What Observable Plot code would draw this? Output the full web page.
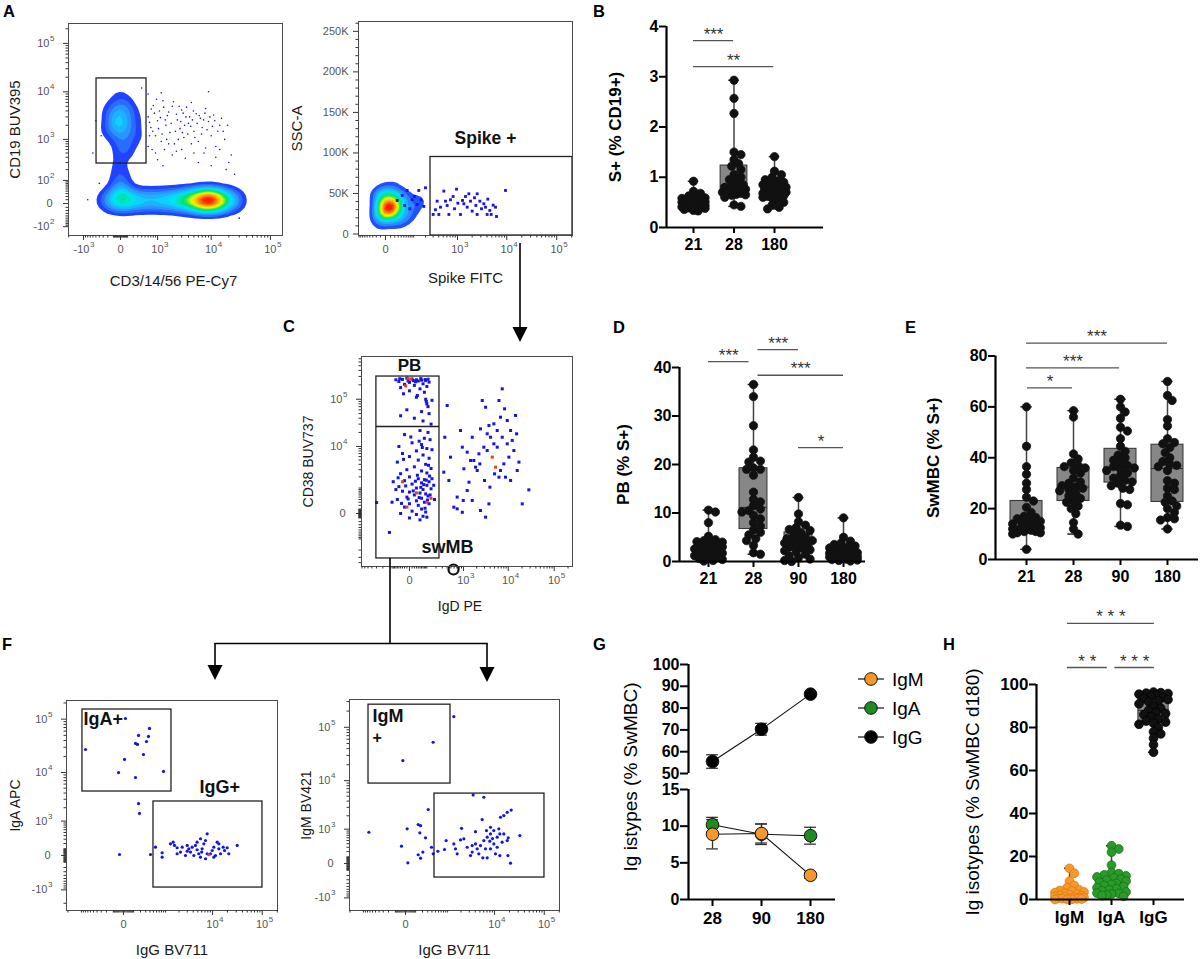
<!DOCTYPE html>
<html><head><meta charset="utf-8">
<script src="https://cdn.jsdelivr.net/npm/d3@7"></script>
<script src="https://cdn.jsdelivr.net/npm/@observablehq/plot@0.6"></script>
<style>
body{margin:0;background:#fff;}
#fig{position:relative;width:1200px;height:959px;overflow:hidden;background:#fff;font-family:"Liberation Sans",Arial,sans-serif;}
</style></head><body><div id="fig"></div><script>
// ===================== DATA =====================
// ---- Panel A (left): CD3/14/56 vs CD19, population anchors [x, y, weight] and sparse events [x, y]
const aLeftBand = [[-270,8,1],[-114,8,2],[0,8,3.2],[114,8,2.6],[270,8,2],[481,8,1.8],[767,8,1.8],[1158,8,1.9],[1689,8,2.1],[2410,8,2.5],[3390,8,3.2],[4720,8,4.2],[6520,8,6],[9000,8,8],[12340,8,6],[16900,8,3.5],[23100,8,1.8],[29200,8,0.8]];
const aLeftNeck = [[0,40,1.2],[0,80,1.3],[0,178,1.0],[-40,350,0.6]];
const aLeftCD19 = [[-30,1980,2.0],[-114,4090,1.3],[67,5300,1.1],[0,945,1.5],[149,1550,1.3],[-190,1550,0.9],[-30,8000,0.7],[230,3000,0.8],[67,600,1.0],[367,945,0.5],[-60,2800,1.2],[40,3300,1.2]];
const aLeftSparse = [[600,3000],[700,1800],[800,5200],[900,1200],[1000,2500],[1100,4000],[1200,900],[1300,6500],[1500,2000],[1600,3200],[1800,1400],[2000,5000],[2200,800],[2500,2600],[2800,1700],[3000,4200],[3300,1100],[3600,3000],[4000,2200],[4500,6000],[5000,1500],[5500,3500],[6000,900],[6500,2800],[7000,1800],[8000,4500],[9000,2400],[10000,1200],[11000,3300],[12000,700],[14000,2000],[16000,1500],[600,700],[900,500],[1400,600],[2000,450],[3000,600],[5000,500],[8000,650],[12000,400],[20000,300],[25000,150],[30000,-50],[-600,500],[-400,80],[-800,10],[600,9000],[1200,9500],[9000,10000],[650,2300],[720,4400],[780,1500],[850,3600],[950,7000],[1050,1700],[1150,2900],[1250,1300],[1350,4800],[1450,2600],[1550,1000],[1700,3800],[1900,2200],[2100,6200],[2300,1500],[2400,3400],[2600,1000],[2700,5000],[2900,2400],[3100,1400],[3200,3600],[3400,2000],[3700,4800],[3900,1300],[4200,3000],[4400,1900],[4700,2600],[4900,4000],[5200,1100],[5700,2200],[6200,3200],[6800,1300],[7400,2600],[7800,3600],[8500,1600],[9500,3000],[10500,1900],[11500,2500],[13000,1500],[15000,2800],[17000,1000],[19000,2000],[650,1200],[750,600],[1000,350],[1300,250],[1700,800],[2400,550],[3500,380],[4500,800],[6000,300],[7500,500],[10000,250],[14000,600],[18000,200],[22000,450],[-350,1200],[-200,5500],[400,12000],[-500,2500]];
const cd19Gate = {x1: -480, x2: 545, y1: 284, y2: 18900};
const aLeftXTicks = [{v:-1000,b:"-10",e:"3"},{v:0,b:"0"},{v:1000,b:"10",e:"3"},{v:10000,b:"10",e:"4"},{v:100000,b:"10",e:"5"}];
const aLeftYTicks = [{v:-100,b:"-10",e:"2"},{v:0,b:"0"},{v:100,b:"10",e:"2"},{v:1000,b:"10",e:"3"},{v:10000,b:"10",e:"4"},{v:100000,b:"10",e:"5"}];

// ---- Panel A (right): Spike FITC vs SSC-A
const spikeBlob = [[5.6,31500,6],[-5.6,26500,3],[22,36400,3],[0,43800,2.5],[-10,47500,1.5],[37.7,46300,1.5],[57,22800,1.5],[22,16700,1.2],[-10,14200,1],[93,35200,1],[151,41400,0.6],[11,56200,0.8]];
const spikeEvents = [[26.8,41400],[43.5,47500],[52.7,35200],[64.6,53700],[78,31100],[91,42200],[105.6,46300],[124,36400],[137,53700],[157,42200],[182,34000],[200,57000],[301,24100],[339,29900],[369,40500],[437,33100],[516,52900],[560,40500],[660,24100],[714,42200],[811,46300],[867,31100],[954,55300],[1018,38000],[1154,24100],[1270,41400],[1463,46300],[1583,33100],[1712,49600],[1851,40500],[2002,28200],[2235,44700],[2380,35200],[2530,49600],[2870,40500],[3099,31100],[3450,37300],[3732,33100],[4150,43000],[4560,29000],[4860,24100],[5320,35600],[5940,33100],[6220,21600],[9420,53700],[402,24100],[607,35200],[1353,37300],[2530,24100],[4030,24100]];
const spikeGate = {x1: 262, x2: 207000, y1: -1850, y2: 95000};
const spikeLabel = [{x: 3732, y: 110500, t: "Spike +"}];
const spikeXTicks = [{v:0,b:"0"},{v:1000,b:"10",e:"3"},{v:10000,b:"10",e:"4"},{v:100000,b:"10",e:"5"}];
const spikeYTicks = [{v:0,b:"0"},{v:50000,b:"50K"},{v:100000,b:"100K"},{v:150000,b:"150K"},{v:200000,b:"200K"},{v:250000,b:"250K"}];

// ---- Panel B: S+ (% CD19+) by day
const bDays = ["21","28","180"];
const b21 = [0.92,0.72,0.68,0.63,0.60,0.59,0.58,0.57,0.56,0.55,0.53,0.51,0.50,0.49,0.48,0.47,0.46,0.45,0.44,0.43,0.42,0.41,0.40,0.40,0.39,0.38,0.36,0.34,0.33];
const b28 = [2.93,2.57,2.27,1.50,1.45,1.35,1.27,1.22,1.15,1.05,1.00,0.95,0.90,0.85,0.82,0.80,0.78,0.76,0.75,0.72,0.70,0.68,0.66,0.65,0.64,0.60,0.45,0.42];
const b180 = [1.41,1.12,1.05,1.00,0.95,0.92,0.90,0.88,0.85,0.82,0.80,0.78,0.76,0.74,0.72,0.70,0.69,0.68,0.66,0.64,0.63,0.62,0.60,0.58,0.55,0.50,0.45,0.40,0.37];
const bSig = [{a:0,b:0.99,y:3.72,s:"***"},{a:0,b:1.98,y:3.2,s:"**"}];

// ---- Panel C: IgD PE vs CD38 BUV737
const cPB = [[-30,260000],[-10,275000],[10,265000],[30,255000],[60,250000],[-50,235000],[0,225000],[40,240000],[90,245000],[120,228000],[-20,205000],[20,195000],[70,210000],[100,185000],[50,165000],[-40,175000],[0,150000],[80,140000],[-70,255000],[110,262000],[15,245000],[-5,240000],[35,120000],[-25,130000],[55,270000],[-45,268000],[85,258000],[25,232000]];
const cColumn = [[30,110000],[90,100000],[100,80000],[110,70000],[-10,60000],[60,55000],[120,50000],[20,40000],[70,35000],[140,30000],[-40,45000],[95,90000],[150,95000],[50,22000],[110,20000],[-20,18000],[80,15000],[130,14000],[10,12000],[60,11000],[-50,10000],[100,9000],[30,8000],[150,8500],[-30,7000],[70,6500],[0,6000],[120,5500],[40,5000],[-60,4500],[90,4000],[20,3500],[140,3200],[-10,3000],[60,2800],[100,2500],[-40,2400],[0,2000],[40,1800],[80,1700],[-20,1600],[120,1500],[60,1400],[10,1300],[100,1200],[-50,1100],[30,1000],[70,900],[140,950],[-30,800],[0,750],[50,700],[90,650],[20,600],[-10,500],[110,550],[60,450],[-60,400],[30,350],[80,300],[0,250],[40,200],[120,250],[-20,150],[60,100],[10,50],[90,30],[-40,0],[30,-20],[70,-60],[0,-100],[50,-150],[100,-80],[-70,900],[130,600],[150,1800],[-300,290],[-124,-620],[-90,1500],[170,1200],[-100,300],[180,400],[25,1550],[75,1250],[-15,1150],[45,480],[105,380],[15,820],[-35,260],[5,16000],[65,9500],[-25,5200],[115,3800],[35,2200],[-55,1900],[95,1650],[55,1050],[-5,420],[85,120],[125,2100],[45,13000]];
const cIgDpos = [[403,74000],[350,15800],[489,5820],[329,2620],[445,1620],[590,148],[711,104],[940,25],[711,500],[990,363],[853,22000],[940,9650],[1220,7500],[1590,15800],[1455,4900],[1730,4900],[1890,3440],[2440,23800],[2670,94000],[3170,68000],[3760,28000],[4080,15800],[4830,11400],[5720,22000],[6770,42000],[6250,94000],[7380,165000],[8300,63000],[9500,35800],[11250,22000],[12200,13500],[14400,45700],[15200,18700],[13250,8150],[10300,5820],[8000,4100],[6770,2870],[3440,8150],[2900,9650],[2360,4100],[2060,2870],[3000,1620],[3950,1060],[5000,2380],[6250,1970],[8700,1970],[11250,1620],[15700,2870],[17100,4500],[20200,245],[28100,880],[3760,245],[2440,65],[3170,-80],[1590,363],[1220,840],[1022,3150],[1340,1460],[2250,6900],[5720,9650],[7380,15800],[9500,11400],[4830,30400],[3440,18700]];
const cRed = [[-5,268000],[5,262000],[-15,190000],[4450,5820],[5270,3440],[-30,1500],[30,700],[100,300],[140,450],[-10,150]];
const cGate = {x1: -304, x2: 251, y1: -3200, y2: 298000, split: 26700};
const cLabels = [{x: 0, y: 398000, t: "PB", a: "middle", s: 17}, {x: 410, y: -2430, t: "swMB", a: "start", s: 18}];
const cMarker = [[580, -5730]];
const cXTicks = [{v:0,b:"0"},{v:1000,b:"10",e:"3"},{v:10000,b:"10",e:"4"},{v:100000,b:"10",e:"5"}];
const cYTicks = [{v:0,b:"0"},{v:10000,b:"10",e:"4"},{v:100000,b:"10",e:"5"}];

// ---- Panel D: PB (% S+)
const dDays = ["21","28","90","180"];
const d21 = [10.6,10.2,8.0,5.2,4.5,4.3,4.1,4.0,3.8,3.6,3.4,3.2,3.0,2.8,2.6,2.5,2.3,2.1,1.9,1.7,1.5,1.4,1.2,1.0,0.8,0.6,0.4,0.2,0.1];
const d28 = [36.5,34,28,23,21.5,20.7,20.5,19.3,19,19,17.8,14.3,12.8,12.3,11.5,10.8,10.5,10.2,9.5,8.8,8,7.3,6.5,6,5.5,4.7,4.3,3.3,1.8,1.5];
const d90 = [13.2,9.8,8.2,7.5,7.0,6.6,6.4,6.0,5.5,5.0,4.7,4.5,4.3,4.1,4.0,3.8,3.6,3.3,3.0,2.7,2.4,2.2,2.0,1.5,1.2,0.8,0.5,0.2,0];
const d180 = [9.0,5.0,4.2,3.8,3.5,3.2,3.0,2.8,2.6,2.4,2.2,2.0,1.9,1.8,1.7,1.6,1.5,1.3,1.2,1.1,1.0,0.9,0.8,0.7,0.6,0.5,0.4,0.3,0.2,0.1];
const dSig = [{a:0,b:0.9,y:41.2,s:"***"},{a:1.1,b:2,y:43.7,s:"***"},{a:1.1,b:3,y:38.4,s:"***"},{a:2,b:3,y:23.5,s:"*"}];

// ---- Panel E: SwMBC (% S+)
const eDays = ["21","28","90","180"];
const e21 = [60,44.5,36.5,33.5,30,27.5,24.5,23,20.5,18.5,17,16.5,16,15.5,15,14.5,14,13.5,13,12.5,12,11.5,11,11,10.5,10.5,10,4,12];
const e28 = [58.5,56,41.5,39.5,38,37,36.5,36,35,34,32,30.5,30,29,28.5,28,27.5,27,26,25,24,23,22.5,21,20,18,14.5,12,10];
const e90 = [63,60,58,55.5,52,50.5,47.5,44.5,42.5,41,40,39,38,37,36.5,36,35.5,35,34,33,32,31,30.5,30,29,28,27.5,22,21.5,13.5,13];
const e180 = [70,64.5,62.5,55,52.5,47.5,46,45.5,44,42,40,38.5,37.5,37,36.5,35,31,30,28,27.5,25,23,22.5,21,20,18.5,16.5,16,15.5,12];
const eSig = [{a:0.02,b:0.98,y:67.5,s:"*"},{a:0,b:1.98,y:75.3,s:"***"},{a:0,b:3,y:85.1,s:"***"}];

// ---- Panel F: IgG BV711 vs IgA APC / IgM BV421
const fIgAgate = [[-798,27200],[16,103000],[388,67200],[168,49800],[363,47700],[316,38400],[124,35300],[152,33800],[254,21900],[8,17700],[-43,10000],[124,8040],[892,10500]];
const fLeftOther = [[168,2450],[183,1500],[-34,13],[415,13]];
const fLeftIgG = [[566,128],[828,37],[828,-22],[1295,193],[1490,230],[1591,160],[1821,117],[2150,47],[2990,160],[3240,99],[3510,47],[3800,128],[4450,160],[4820,83],[5220,23],[5660,-22],[6120,99],[6620,193],[7170,269],[7760,457],[9070,23],[9820,71],[10600,128],[11460,0],[12400,230],[13400,99],[14500,23],[16400,128],[17470,71],[19750,117],[21300,23],[31400,160],[5660,312],[7170,-45],[2750,0],[1821,23],[2340,128],[4120,0],[7760,23],[10600,-22],[13400,193],[4820,230],[2990,61],[5990,47]];
const fLeftRed = [[8400,10]];
const fIgAGateBox = {x1: -943, x2: 1364, y1: 4290, y2: 151000};
const fLeftIgGGate = {x1: 501, x2: 101000, y1: -876, y2: 2700};
const fLeftLabels = [{x: -892, y: 76300, t: "IgA+"}, {x: 5390, y: 3920, t: "IgG+"}];
const fIgMgate = [[1388,158000],[432,52700],[-22,23900]];
const fRightOther = [[-741,840],[-34,330],[13,1020],[19,9],[133,1280],[168,1210],[157,810],[254,600],[133,136],[168,77],[205,190],[309,2700],[388,301],[432,153],[577,207],[845,246],[924,500]];
const fRightIgG = [[3620,5300],[6030,4770],[5570,1660],[2050,1050],[4050,870],[8250,1110],[9650,925],[12180,1020],[13170,1860],[15390,2020],[17990,2370],[21700,2640],[32400,690],[18900,600],[12770,762],[8250,762],[7060,623],[6030,500],[5140,346],[4390,261],[3450,190],[3184,122],[2300,560],[1947,522],[1388,393],[1512,261],[1647,153],[2710,301],[8250,261],[9650,393],[11280,301],[10430,153],[5740,83],[7060,83],[12770,122],[18600,122],[20990,4],[8000,480],[9070,569],[6830,925],[11280,623],[15390,762],[17990,500],[14230,445],[4050,393],[3450,346],[4750,153],[6520,261]];
const fIgMGateBox = {x1: -756, x2: 1166, y1: 8800, y2: 263000};
const fRightIgGGate = {x1: 470, x2: 101000, y1: -245, y2: 5630};
const fRightLabels = [{x: -600, y: 127000, t: "IgM", s: 18}, {x: -600, y: 52000, t: "+", s: 16}];
const fXTicks = [{v:0,b:"0"},{v:10000,b:"10",e:"4"},{v:100000,b:"10",e:"5"}];
const fYTicks = [{v:-1000,b:"-10",e:"3"},{v:0,b:"0"},{v:1000,b:"10",e:"3"},{v:10000,b:"10",e:"4"},{v:100000,b:"10",e:"5"}];

// ---- Panel G: Ig isotypes (% SwMBC), mean ± SEM
const gDays = ["28","90","180"];
const igmMean = [8.9, 9.0, 3.3], igmSem = [2.0, 1.3, 0.4];
const igaMean = [10.2, 8.9, 8.7], igaSem = [1.0, 1.4, 1.15];
const iggMean = [55.5, 70.3, 86.4], iggSem = [3.1, 2.7, 0.8];
const isoNames = ["IgM","IgA","IgG"];
const isoColors = ["#f7982a","#1f8c1f","#000000"];

// ---- Panel H: Ig isotypes (% SwMBC d180)
const hIso = ["IgM","IgA","IgG"];
const hIgM = [14.5,12.2,8.5,6.5,5.5,4.5,4.2,4.0,3.5,3.2,3.0,2.5,2.2,2.0,1.8,1.5,1.3,1.0,0.9,0.8,0.6,0.5,0.4,0.3,0.2,0.1,0,0];
const hIgA = [25,23.5,22,16,12.5,12,11.5,11,10.5,10,9.5,9,8.5,8,7.5,7,6.5,6,5.5,5,4.5,4,3.5,3,2.8,2.5,2,1.8,1.5];
const hIgG = [96.5,96.2,96,95.8,95.5,95,94.5,94,93.5,93,92.5,92,91,90,89,88,87,86.5,86,85,84,83,82.5,82,81.5,80,78,77,75,72,68.5];
const hSig = [{a:-0.05,b:2.02,y:128.4,s:"* * *"},{a:-0.05,b:0.9,y:107.9,s:"* *"},{a:1.08,b:2.02,y:107.9,s:"* * *"}];

// ===================== RENDERING =====================
const fig = document.getElementById("fig");
const FONT = "Liberation Sans, Arial, Helvetica, sans-serif";
const flowInterp = d3.piecewise(d3.interpolateRgb, ["#1a1aff","#2f8fff","#00e5ff","#00e060","#f0ff00","#ff9900","#ff1a00"]);
const baseStyle = {background: "transparent", overflow: "visible", fontFamily: FONT};

function place(svg, left, top) {
  svg.style.position = "absolute";
  svg.style.left = left + "px";
  svg.style.top = top + "px";
  fig.appendChild(svg);
}
function logMinors([lo, hi], majors) {
  const out = [];
  for (let e = 1; e <= 5; e++) for (let k = 1; k <= 9; k++) {
    const v = k * 10 ** e;
    for (const s of [v, -v]) if (s > lo && s < hi && !majors.includes(s)) out.push(s);
  }
  return out;
}
const P = d => ({x: d[0], y: d[1]});
const A = d => ({x: d[0], y: d[1], w: d[2]});

function flowPlot(c) {
  const xMajor = c.xTicks.map(d => d.v), yMajor = c.yTicks.map(d => d.v);
  const xMinor = c.xMinor || logMinors(c.x.domain, xMajor);
  const yMinor = c.yMinor || logMinors(c.y.domain, yMajor);
  const plainX = c.xTicks.filter(d => !d.e), expX = c.xTicks.filter(d => d.e);
  const plainY = c.yTicks.filter(d => !d.e), expY = c.yTicks.filter(d => d.e);
  const lab = {fill: "#555", fontSize: 11};
  const svg = Plot.plot({
    width: c.width, height: c.height,
    marginLeft: c.mL, marginRight: c.mR, marginTop: c.mT, marginBottom: c.mB,
    style: baseStyle,
    x: {...c.x, label: null}, y: {...c.y, label: null},
    color: {type: "linear", interpolate: flowInterp},
    marks: [
      ...c.marks,
      Plot.frame({stroke: "#4a4a4a"}),
      Plot.axisX({ticks: xMajor, tickSize: 5, tickFormat: () => "", stroke: "#333", label: null}),
      Plot.axisX({ticks: xMinor, tickSize: 2.5, tickFormat: () => "", stroke: "#333", label: null}),
      Plot.axisY({ticks: yMajor, tickSize: 5, tickFormat: () => "", stroke: "#333", label: null}),
      Plot.axisY({ticks: yMinor, tickSize: 2.5, tickFormat: () => "", stroke: "#333", label: null}),
      Plot.text(plainX, {x: "v", text: "b", frameAnchor: "bottom", dy: 17, textAnchor: "middle", lineAnchor: "bottom", ...lab}),
      Plot.text(expX, {x: "v", text: "b", frameAnchor: "bottom", dx: 6, dy: 17, textAnchor: "end", lineAnchor: "bottom", ...lab}),
      Plot.text(expX, {x: "v", text: "e", frameAnchor: "bottom", dx: 6.5, dy: 11, textAnchor: "start", lineAnchor: "bottom", fill: "#555", fontSize: 8}),
      Plot.text(plainY, {y: "v", text: "b", frameAnchor: "left", dx: c.yPlainDx, textAnchor: "end", lineAnchor: "middle", ...lab}),
      Plot.text(expY, {y: "v", text: "b", frameAnchor: "left", dx: -19, textAnchor: "end", lineAnchor: "middle", ...lab}),
      Plot.text(expY, {y: "v", text: "e", frameAnchor: "left", dx: -18.5, dy: -5, textAnchor: "start", lineAnchor: "middle", fill: "#555", fontSize: 8}),
      Plot.text([c.xLabel], {frameAnchor: "bottom", dx: c.xLabelDx || 0, dy: c.xLabelDy, textAnchor: "middle", lineAnchor: "bottom", fontSize: c.xLabelSize, fill: "#1a1a1a"}),
      Plot.text([c.yLabel], {frameAnchor: "left", dx: c.yLabelDx, rotate: -90, textAnchor: "middle", lineAnchor: "middle", fontSize: c.yLabelSize, fill: "#1a1a1a"})
    ]
  });
  place(svg, c.left, c.top);
}
const gateStyle = {x1: "x1", x2: "x2", y1: "y1", y2: "y2", fill: "none", stroke: "#222", strokeWidth: 1.3};
const evBlue = "#1414e6";

// ---- A left
flowPlot({
  left: 0, top: 0, width: 300, height: 295, mL: 68, mR: 18, mT: 23, mB: 60,
  x: {type: "symlog", constant: 318, domain: [-2022, 159000]},
  y: {type: "symlog", constant: 50, domain: [-178, 257000]},
  xTicks: aLeftXTicks, yTicks: aLeftYTicks, yPlainDx: -16,
  xLabel: "CD3/14/56 PE-Cy7", xLabelDy: 50, xLabelDx: -2, xLabelSize: 15,
  yLabel: "CD19 BUV395", yLabelDx: -53, yLabelSize: 15,
  marks: [
    Plot.dot(aLeftSparse.map(P), {x: "x", y: "y", r: 0.8, fill: evBlue, clip: true}),
    Plot.density([...aLeftBand, ...aLeftNeck, ...aLeftCD19].map(A), {x: "x", y: "y", weight: "w", bandwidth: 5.5, thresholds: 18, fill: "density", clip: true}),
    Plot.rect([cd19Gate], gateStyle)
  ]
});

// ---- A right
flowPlot({
  left: 300, top: 0, width: 290, height: 295, mL: 58, mR: 18, mT: 21, mB: 60,
  x: {type: "symlog", constant: 37.7, domain: [-93, 207000]},
  y: {type: "linear", domain: [-1850, 262144]},
  xTicks: spikeXTicks, yTicks: spikeYTicks, yPlainDx: -10,
  yMinor: d3.range(10000, 262144, 10000).filter(v => v % 50000 !== 0),
  xLabel: "Spike FITC", xLabelDy: 47, xLabelSize: 15,
  yLabel: "SSC-A", yLabelDx: -61, yLabelSize: 15,
  marks: [
    Plot.density(spikeBlob.map(A), {x: "x", y: "y", weight: "w", bandwidth: 5, thresholds: 14, fill: "density", clip: true}),
    Plot.dot(spikeEvents.map(P), {x: "x", y: "y", r: 1.6, symbol: "square", fill: evBlue, clip: true}),
    Plot.rect([spikeGate], gateStyle),
    Plot.text(spikeLabel, {x: "x", y: "y", text: "t", lineAnchor: "bottom", fontSize: 17.5, fontWeight: "bold", fill: "#111"})
  ]
});

// ---- C
flowPlot({
  left: 290, top: 330, width: 300, height: 300, mL: 71, mR: 18, mT: 26, mB: 64,
  x: {type: "symlog", constant: 72, domain: [-720, 250000]},
  y: {type: "symlog", constant: 418, domain: [-4900, 780000]},
  xTicks: cXTicks, yTicks: cYTicks, yPlainDx: -16,
  xLabel: "IgD PE", xLabelDy: 44, xLabelDx: -7, xLabelSize: 14,
  yLabel: "CD38 BUV737", yLabelDx: -53, yLabelSize: 14,
  marks: [
    Plot.dot([...cPB, ...cColumn, ...cIgDpos].map(P), {x: "x", y: "y", r: 1.7, symbol: "square", fill: evBlue, clip: true}),
    Plot.dot(cRed.map(P), {x: "x", y: "y", r: 1.7, symbol: "square", fill: "#f03a1a", clip: true}),
    Plot.rect([cGate], gateStyle),
    Plot.ruleY([cGate], {y: "split", x1: "x1", x2: "x2", stroke: "#222", strokeWidth: 1.3}),
    Plot.text(cLabels, {x: "x", y: "y", text: "t", textAnchor: "a", fontSize: d => d.s, lineAnchor: "bottom", fontWeight: "bold", fill: "#111"}),
    Plot.dot(cMarker.map(P), {x: "x", y: "y", r: 5, stroke: "#111", strokeWidth: 2.2, fill: "none"})
  ]
});

// ---- F left
flowPlot({
  left: 0, top: 680, width: 290, height: 280, mL: 66, mR: 13, mT: 20, mB: 50,
  x: {type: "symlog", constant: 168, domain: [-2150, 202000]},
  y: {type: "symlog", constant: 300, domain: [-2830, 222000]},
  xTicks: fXTicks, yTicks: fYTicks, yPlainDx: -16,
  xLabel: "IgG BV711", xLabelDy: 44, xLabelSize: 15,
  yLabel: "IgA APC", yLabelDx: -51, yLabelSize: 14,
  marks: [
    Plot.dot([...fIgAgate, ...fLeftOther, ...fLeftIgG].map(P), {x: "x", y: "y", r: 1.6, fill: evBlue, clip: true}),
    Plot.dot(fLeftRed.map(P), {x: "x", y: "y", r: 1.6, fill: "#f03a1a", clip: true}),
    Plot.rect([fIgAGateBox, fLeftIgGGate], gateStyle),
    Plot.text(fLeftLabels, {x: "x", y: "y", text: "t", textAnchor: "start", lineAnchor: "bottom", fontSize: 18, fontWeight: "bold", fill: "#111"})
  ]
});

// ---- F right
flowPlot({
  left: 290, top: 680, width: 290, height: 280, mL: 59, mR: 21, mT: 19, mB: 50,
  x: {type: "symlog", constant: 168, domain: [-2050, 202000]},
  y: {type: "symlog", constant: 300, domain: [-1925, 328000]},
  xTicks: fXTicks, yTicks: fYTicks, yPlainDx: -16,
  xLabel: "IgG BV711", xLabelDy: 44, xLabelSize: 15,
  yLabel: "IgM BV421", yLabelDx: -43, yLabelSize: 14,
  marks: [
    Plot.dot([...fIgMgate, ...fRightOther, ...fRightIgG].map(P), {x: "x", y: "y", r: 1.6, fill: evBlue, clip: true}),
    Plot.rect([fIgMGateBox, fRightIgGGate], gateStyle),
    Plot.text(fRightLabels, {x: "x", y: "y", text: "t", textAnchor: "start", lineAnchor: "bottom", fontSize: d => d.s, fontWeight: "bold", fill: "#111"})
  ]
});

// ---------- box-plot panels ----------
function swarm(vals, pxY, pxX, r, half) {
  const idx = d3.range(vals.length).sort((a, b) => vals[b] - vals[a]);
  const placed = [], off = new Array(vals.length).fill(0);
  const minD = r * 1.45, step = r * 0.55;
  for (const i of idx) {
    const py = vals[i] * pxY;
    let best = 0, bestScore = -Infinity;
    for (let k = 0; k < 80; k++) {
      const s = k === 0 ? 0 : (k % 2 ? 1 : -1) * Math.ceil(k / 2) * step;
      if (Math.abs(s) > half) break;
      let m = Infinity;
      for (const p of placed) m = Math.min(m, Math.hypot(p.x - s, p.y - py));
      if (m >= minD) { best = s; break; }
      if (m > bestScore) { bestScore = m; best = s; }
    }
    placed.push({x: best, y: py});
    off[i] = best / pxX;
  }
  return off;
}
function boxPanel(c) {
  const stats = c.groups.map((vals, i) => {
    const s = vals.slice().sort(d3.ascending);
    return {i, min: s[0], max: s[s.length - 1], q1: d3.quantile(s, 0.25), med: d3.quantile(s, 0.5), q3: d3.quantile(s, 0.75)};
  });
  const pts = [];
  c.groups.forEach((vals, i) => {
    const off = swarm(vals, c.pxY, c.pxX, c.r, c.bw * c.pxX);
    vals.forEach((v, j) => pts.push({i, x: i + off[j], v}));
  });
  const [x0, x1] = c.xDomain, [y0, y1] = c.yDomain;
  const lo = d => d.i - c.bw, hi = d => d.i + c.bw, clo = d => d.i - c.cap, chi = d => d.i + c.cap;
  const svg = Plot.plot({
    width: c.width, height: c.height,
    marginLeft: c.mL, marginRight: c.mR, marginTop: c.mT, marginBottom: c.mB,
    style: {...baseStyle, fontWeight: "bold"},
    x: {domain: c.xDomain, label: null}, y: {domain: c.yDomain, label: null},
    color: {type: "identity"},
    marks: [
      Plot.ruleX(stats, {x: "i", y1: "min", y2: "q1", stroke: "#444", strokeWidth: 1.5}),
      Plot.ruleX(stats, {x: "i", y1: "q3", y2: "max", stroke: "#444", strokeWidth: 1.5}),
      Plot.ruleY(stats, {x1: clo, x2: chi, y: "max", stroke: "#222", strokeWidth: 1.5}),
      Plot.ruleY(stats, {x1: clo, x2: chi, y: "min", stroke: "#222", strokeWidth: 1.5}),
      Plot.rect(stats, {x1: lo, x2: hi, y1: "q1", y2: "q3", fill: "#878787", stroke: "#3a3a3a", strokeWidth: 1.1}),
      Plot.ruleY(stats, {x1: lo, x2: hi, y: "med", stroke: "#333", strokeWidth: 1.1}),
      Plot.dot(pts, {x: "x", y: "v", r: c.r, fill: d => c.dotFill[d.i], stroke: d => c.dotStroke[d.i], strokeWidth: 0.7}),
      Plot.ruleX([x0], {y1: y0, y2: y1, stroke: "#000", strokeWidth: 2.2}),
      Plot.ruleY([y0], {x1: x0, x2: x1, stroke: "#000", strokeWidth: 2.2}),
      Plot.axisY({ticks: c.yTicks, tickFormat: d => String(d), tickSize: 7, tickPadding: 1, strokeWidth: 2, fontSize: c.tickFont, fontWeight: "bold", label: null}),
      Plot.axisX({ticks: c.cats.map((_, i) => i), tickFormat: i => c.cats[i], tickSize: 6, tickPadding: 5, strokeWidth: 2, fontSize: c.tickFont, fontWeight: "bold", label: null}),
      Plot.text([c.yLabel], {frameAnchor: "left", dx: c.yLabelDx, rotate: -90, textAnchor: "middle", lineAnchor: "middle", fontSize: c.yLabelSize, fontWeight: c.yLabelWeight, fill: "#000"}),
      Plot.ruleY(c.sigs, {x1: "a", x2: "b", y: "y", stroke: "#555", strokeWidth: 1.3}),
      Plot.text(c.sigs, {x: d => (d.a + d.b) / 2, y: "y", text: "s", dy: -1, textAnchor: "middle", lineAnchor: "bottom", fontSize: 17, fontWeight: "normal", fill: "#333"})
    ]
  });
  place(svg, c.left, c.top);
}
const blk = ["#111","#111","#111","#111"];
boxPanel({left: 590, top: 0, width: 240, height: 270, mL: 76, mR: 7, mT: 26, mB: 43,
  xDomain: [-0.667, 3.21], yDomain: [0, 4], yTicks: [0,1,2,3,4], cats: bDays, groups: [b21, b28, b180],
  pxX: 40.5, pxY: 50.25, bw: 0.33, cap: 0.13, r: 4.2, dotFill: blk, dotStroke: blk, tickFont: 16,
  yLabel: "S+ (% CD19+)", yLabelDx: -51, yLabelSize: 17, yLabelWeight: "bold", sigs: bSig});
boxPanel({left: 600, top: 300, width: 270, height: 300, mL: 79, mR: 5, mT: 67, mB: 39,
  xDomain: [-0.644, 3.489], yDomain: [0, 40], yTicks: [0,10,20,30,40], cats: dDays, groups: [d21, d28, d90, d180],
  pxX: 45, pxY: 4.85, bw: 0.31, cap: 0.12, r: 4.2, dotFill: blk, dotStroke: blk, tickFont: 16,
  yLabel: "PB (% S+)", yLabelDx: -56, yLabelSize: 17, yLabelWeight: "bold", sigs: dSig});
boxPanel({left: 880, top: 300, width: 320, height: 300, mL: 115, mR: 2, mT: 55.5, mB: 41,
  xDomain: [-0.66, 3.66], yDomain: [0, 80], yTicks: [0,20,40,60,80], cats: eDays, groups: [e21, e28, e90, e180],
  pxX: 47, pxY: 2.55, bw: 0.34, cap: 0.12, r: 4.2, dotFill: blk, dotStroke: blk, tickFont: 16,
  yLabel: "SwMBC (% S+)", yLabelDx: -62, yLabelSize: 17, yLabelWeight: "bold", sigs: eSig});
boxPanel({left: 930, top: 600, width: 260, height: 340, mL: 106, mR: 6, mT: 84, mB: 41,
  xDomain: [-0.786, 2.738], yDomain: [0, 100], yTicks: [0,20,40,60,80,100], cats: hIso, groups: [hIgM, hIgA, hIgG],
  pxX: 42, pxY: 2.15, bw: 0.36, cap: 0.12, r: 4.4, dotFill: ["#f7982a","#2a9a2a","#111"], dotStroke: ["#d8780f","#126e12","#000"], tickFont: 17,
  yLabel: "Ig isotypes (% SwMBC d180)", yLabelDx: -64, yLabelSize: 19, yLabelWeight: "normal", sigs: hSig});

// ---------- G: broken-axis line chart ----------
function isoRows(name, mean, sem) { return mean.map((m, i) => ({iso: name, i, m, e: sem[i]})); }
const rowsM = isoRows("IgM", igmMean, igmSem), rowsA = isoRows("IgA", igaMean, igaSem), rowsG = isoRows("IgG", iggMean, iggSem);
const colorOf = n => isoColors[isoNames.indexOf(n)];
function gMarks(rows, lowRows) {
  return [
    Plot.ruleX(rows, {x: "i", y1: d => d.m - d.e, y2: d => d.m + d.e, stroke: "#333", strokeWidth: 1.3}),
    Plot.ruleY(rows, {x1: d => d.i - 0.12, x2: d => d.i + 0.12, y: d => d.m + d.e, stroke: "#333", strokeWidth: 1.3}),
    Plot.ruleY(rows, {x1: d => d.i - 0.12, x2: d => d.i + 0.12, y: d => d.m - d.e, stroke: "#333", strokeWidth: 1.3}),
    Plot.line(rows, {x: "i", y: "m", z: "iso", stroke: "#111", strokeWidth: 1.1}),
    ...lowRows.map(r => Plot.dot(r, {x: "i", y: "m", r: 6.3, fill: d => colorOf(d.iso), stroke: "#111", strokeWidth: 1}))
  ];
}
const gX = [-0.49, 2.51];
const gTop = Plot.plot({
  width: 260, height: 140, marginLeft: 98, marginRight: 15, marginTop: 24, marginBottom: 7,
  style: {...baseStyle, fontWeight: "bold"},
  x: {domain: gX, axis: null, label: null}, y: {domain: [50, 100], label: null}, color: {type: "identity"},
  marks: [
    Plot.ruleX([gX[0]], {y1: 50, y2: 100, stroke: "#000", strokeWidth: 2.2}),
    Plot.axisY({ticks: [50,60,70,80,90,100], tickFormat: d => String(d), tickSize: 8, tickPadding: 1, strokeWidth: 2, fontSize: 16, fontWeight: "bold", label: null}),
    ...gMarks(rowsG, [rowsG])
  ]
});
place(gTop, 590, 640);
const gBot = Plot.plot({
  width: 260, height: 160, marginLeft: 98, marginRight: 15, marginTop: 9, marginBottom: 41,
  style: {...baseStyle, fontWeight: "bold"},
  x: {domain: gX, label: null}, y: {domain: [0, 15], label: null}, color: {type: "identity"},
  marks: [
    ...gMarks([...rowsA, ...rowsM], [rowsA, rowsM]),
    Plot.ruleX([gX[0]], {y1: 0, y2: 15, stroke: "#000", strokeWidth: 2.2}),
    Plot.ruleY([0], {x1: gX[0], x2: gX[1], stroke: "#000", strokeWidth: 2.2}),
    Plot.axisY({ticks: [0,5,10,15], tickFormat: d => String(d), tickSize: 8, tickPadding: 1, strokeWidth: 2, fontSize: 16, fontWeight: "bold", label: null}),
    Plot.axisX({ticks: [0,1,2], tickFormat: i => gDays[i], tickSize: 7, tickPadding: 5, strokeWidth: 2, fontSize: 17, fontWeight: "bold", label: null})
  ]
});
place(gBot, 590, 780);

// ---------- overlay: panel letters, arrows, G label & legend ----------
const ov = d3.create("svg").attr("width", 1200).attr("height", 959)
  .style("position", "absolute").style("left", "0px").style("top", "0px").style("overflow", "visible")
  .attr("font-family", FONT);
[["A",3,17],["B",593,17],["C",283,332],["D",613,333],["E",905,333],["F",2,650],["G",593,650],["H",943,650]]
  .forEach(([t, x, y]) => ov.append("text").attr("x", x).attr("y", y).attr("font-size", 16.5).attr("font-weight", "bold").text(t));
function arrow(x, y1, y2) {
  ov.append("line").attr("x1", x).attr("x2", x).attr("y1", y1).attr("y2", y2 - 12).attr("stroke", "#000").attr("stroke-width", 1.6);
  ov.append("path").attr("d", `M${x - 7.5},${y2 - 15}L${x + 7.5},${y2 - 15}L${x},${y2}Z`).attr("fill", "#000");
}
arrow(520, 243, 342);
ov.append("line").attr("x1", 390).attr("x2", 390).attr("y1", 558).attr("y2", 643.5).attr("stroke", "#000").attr("stroke-width", 1.6);
ov.append("line").attr("x1", 214.2).attr("x2", 487.8).attr("y1", 643.5).attr("y2", 643.5).attr("stroke", "#000").attr("stroke-width", 1.6);
arrow(215, 643.5, 680);
arrow(487, 643.5, 682);
ov.append("text").attr("transform", "translate(630,777) rotate(-90)").attr("text-anchor", "middle").attr("dy", "0.35em")
  .attr("font-size", 19).text("Ig istypes (% SwMBC)");
isoNames.forEach((n, k) => {
  const y = 679 + 29 * k;
  ov.append("line").attr("x1", 858).attr("x2", 884).attr("y1", y).attr("y2", y).attr("stroke", "#111").attr("stroke-width", 1.2);
  ov.append("circle").attr("cx", 871).attr("cy", y).attr("r", 6.3).attr("fill", isoColors[k]).attr("stroke", "#111");
  ov.append("text").attr("x", 892).attr("y", y + 7).attr("font-size", 19).text(n);
});
fig.appendChild(ov.node());
</script></body></html>
